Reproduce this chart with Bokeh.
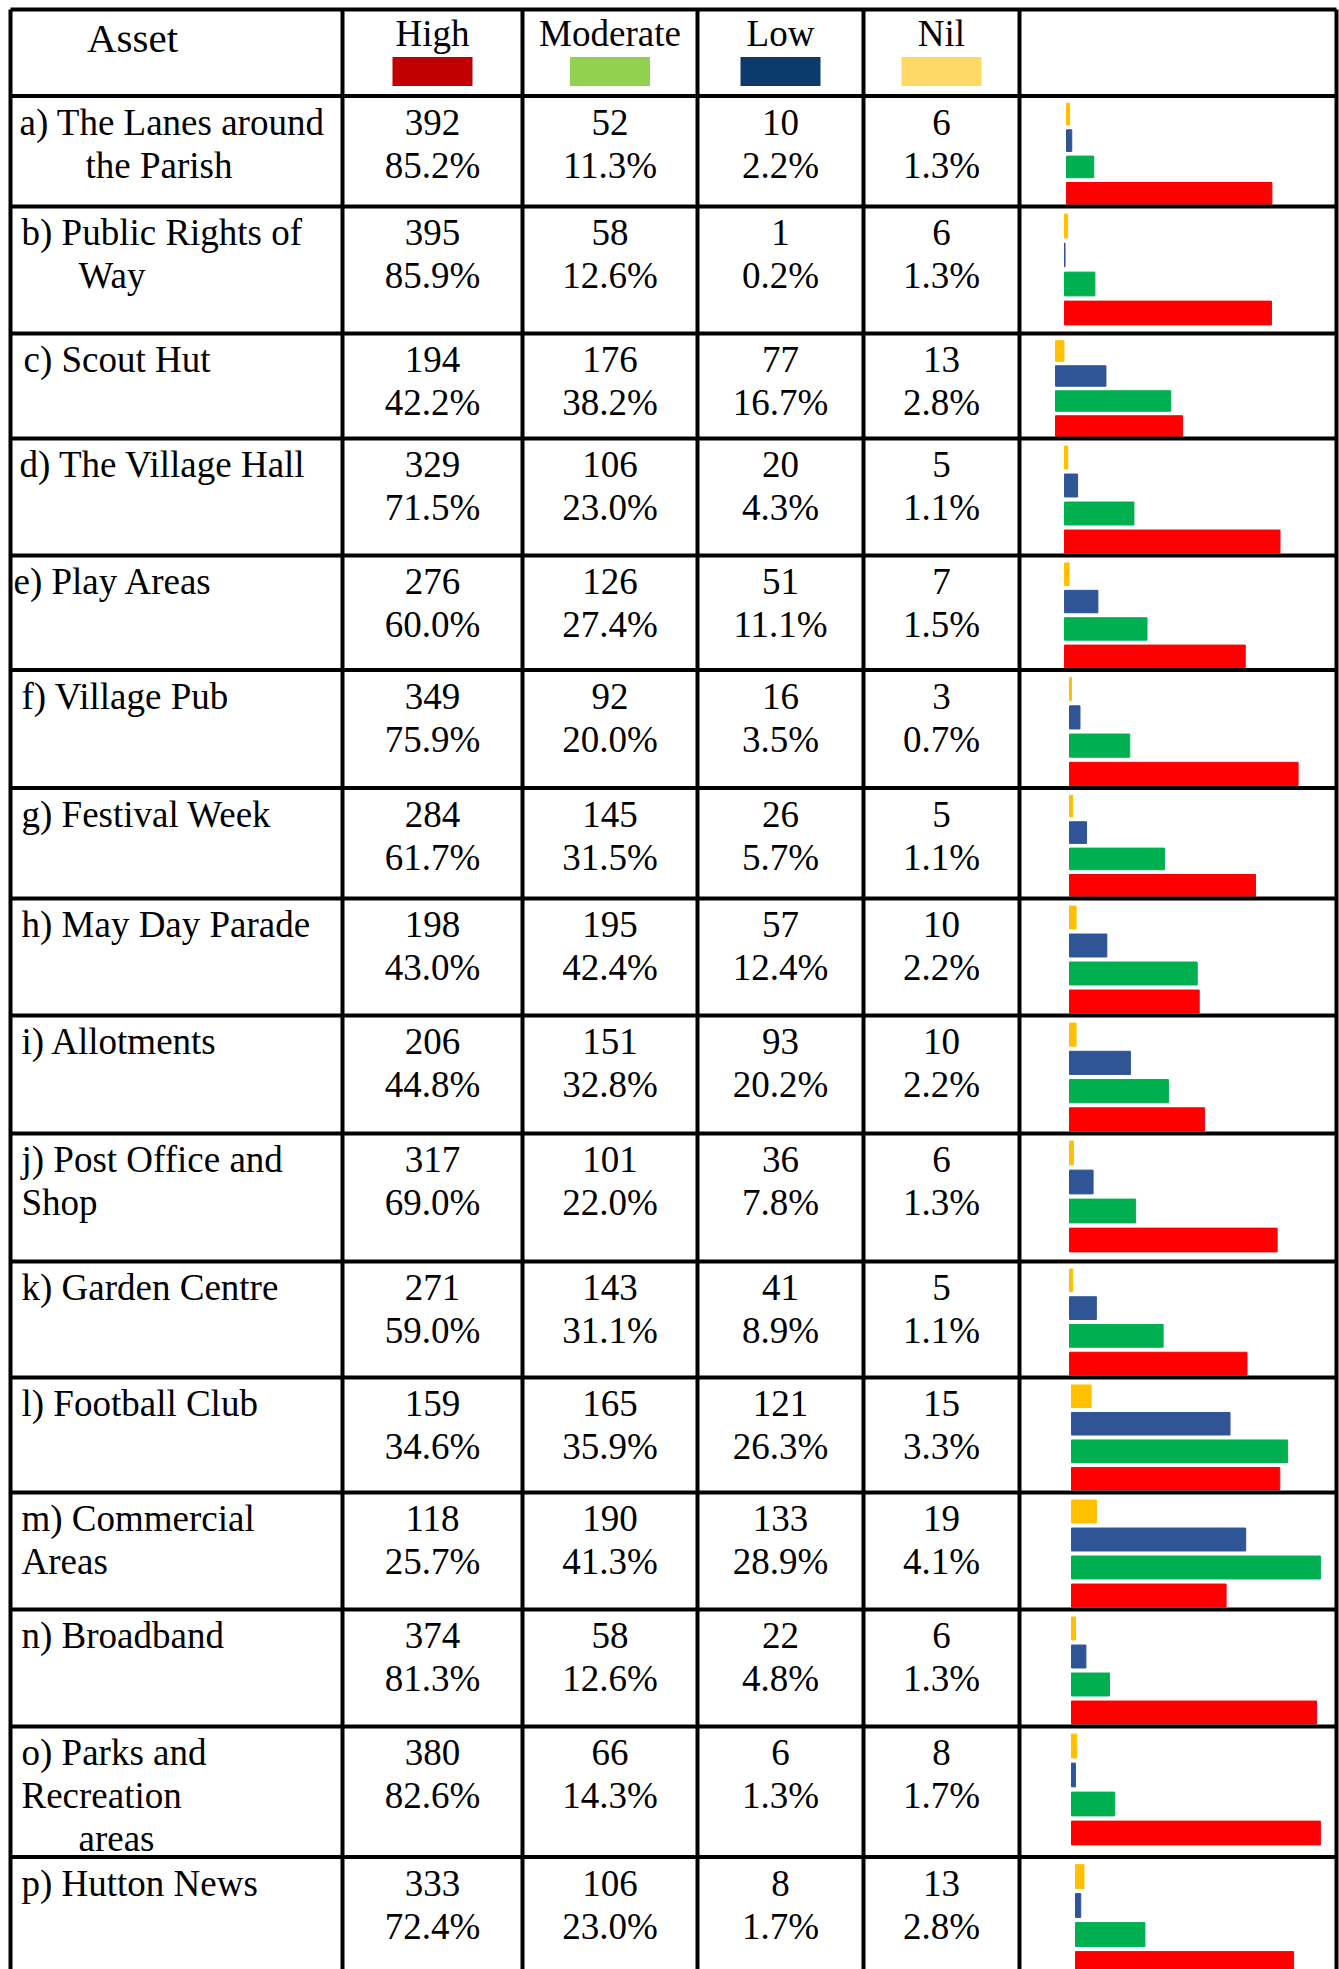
from bokeh.plotting import figure
from bokeh.models import ColumnDataSource, Range1d
from bokeh.core.properties import value
from bokeh.embed import file_html
from bokeh.resources import INLINE

# ---------------- data ----------------
asset_lines = [
    ["a) The Lanes around", "the Parish"],
    ["b) Public Rights of", "Way"],
    ["c) Scout Hut"],
    ["d) The Village Hall"],
    ["e) Play Areas"],
    ["f) Village Pub"],
    ["g) Festival Week"],
    ["h) May Day Parade"],
    ["i) Allotments"],
    ["j) Post Office and", "Shop"],
    ["k) Garden Centre"],
    ["l) Football Club"],
    ["m) Commercial", "Areas"],
    ["n) Broadband"],
    ["o) Parks and", "Recreation", "areas"],
    ["p) Hutton News"],
]
levels = ["High", "Moderate", "Low", "Nil"]
high = [392, 395, 194, 329, 276, 349, 284, 198, 206, 317, 271, 159, 118, 374, 380, 333]
high_pct = ["85.2%", "85.9%", "42.2%", "71.5%", "60.0%", "75.9%", "61.7%", "43.0%",
            "44.8%", "69.0%", "59.0%", "34.6%", "25.7%", "81.3%", "82.6%", "72.4%"]
moderate = [52, 58, 176, 106, 126, 92, 145, 195, 151, 101, 143, 165, 190, 58, 66, 106]
moderate_pct = ["11.3%", "12.6%", "38.2%", "23.0%", "27.4%", "20.0%", "31.5%", "42.4%",
                "32.8%", "22.0%", "31.1%", "35.9%", "41.3%", "12.6%", "14.3%", "23.0%"]
low = [10, 1, 77, 20, 51, 16, 26, 57, 93, 36, 41, 121, 133, 22, 6, 8]
low_pct = ["2.2%", "0.2%", "16.7%", "4.3%", "11.1%", "3.5%", "5.7%", "12.4%",
           "20.2%", "7.8%", "8.9%", "26.3%", "28.9%", "4.8%", "1.3%", "1.7%"]
nil = [6, 6, 13, 5, 7, 3, 5, 10, 10, 6, 5, 15, 19, 6, 8, 13]
nil_pct = ["1.3%", "1.3%", "2.8%", "1.1%", "1.5%", "0.7%", "1.1%", "2.2%",
           "2.2%", "1.3%", "1.1%", "3.3%", "4.1%", "1.3%", "1.7%", "2.8%"]
# axis maximum of each row's mini bar chart
chart_max = [500, 500, 400, 400, 400, 400, 400, 400, 400, 400, 400, 200, 200, 400, 400, 400]

# ---------------- layout / style ----------------
FONT = value("Liberation Serif")
FS = "37px"
W, H = 1339, 1969
col_edges = [10, 342, 522, 697, 863, 1019, 1336]
row_edges = [9, 95.5, 206, 333, 438, 555, 669.5, 787.5, 898, 1015, 1133, 1261,
             1377, 1492, 1609, 1726, 1856.5, 1980]
bar_left = [1066, 1064, 1055, 1064, 1064, 1069, 1069, 1069, 1069, 1069, 1069,
            1071, 1071, 1071, 1071, 1075]
chart_w = 262
label_x_override = {0: [19, 85], 1: [21, 78], 2: [23], 3: [19], 4: [13], 14: [21, 21, 78]}
swatch_colors = ["#C00000", "#92D050", "#0B3A6B", "#FFD966"]
bar_colors = {"High": "#FF0000", "Moderate": "#00B050", "Low": "#2F5597", "Nil": "#FFC000"}

p = figure(width=W, height=H, x_range=Range1d(0, W), y_range=Range1d(H, 0),
           output_backend="svg", toolbar_location=None, min_border=0)
p.axis.visible = False
p.grid.visible = False
p.outline_line_color = None
p.background_fill_color = "white"

# ---- bars (drawn first so grid lines sit on top) ----
series = {"High": high, "Moderate": moderate, "Low": low, "Nil": nil}
order_top_to_bottom = ["Nil", "Low", "Moderate", "High"]
by, bl, br, bh, bc = [], [], [], [], []
for i in range(len(asset_lines)):
    top, bot = row_edges[i + 1], row_edges[i + 2]
    band = min((bot - top - 5) / 4, 29)
    for k, lev in enumerate(order_top_to_bottom):
        v = series[lev][i]
        by.append(top + 5 + band * (k + 0.5))
        bl.append(bar_left[i])
        br.append(bar_left[i] + v / chart_max[i] * chart_w)
        bh.append(band * 0.82)
        bc.append(bar_colors[lev])
p.hbar(y="y", left="l", right="r", height="h", color="c",
       source=ColumnDataSource(dict(y=by, l=bl, r=br, h=bh, c=bc)))

# ---- header swatches ----
col_centers = [(col_edges[j] + col_edges[j + 1]) / 2 for j in range(1, 5)]
p.rect(x=col_centers, y=[71] * 4, width=80, height=29, color=swatch_colors, line_color=None)

# ---- grid lines ----
xs0 = [col_edges[0]] * len(row_edges)
xs1 = [col_edges[-1]] * len(row_edges)
p.segment(x0=xs0, y0=row_edges, x1=xs1, y1=row_edges, line_color="black", line_width=4)
p.segment(x0=col_edges, y0=[row_edges[0]] * len(col_edges), x1=col_edges,
          y1=[row_edges[-1]] * len(col_edges), line_color="black", line_width=4)

# ---- texts ----
p.text(x=[132], y=[37], text=["Asset"], text_align="center", text_baseline="middle",
       text_font=FONT, text_font_size="41px", text_color="black")

tx, ty, tt, ta = [], [], [], []
for j, lev in enumerate(levels):
    tx.append(col_centers[j]); ty.append(33); tt.append(lev); ta.append("center")
counts = [high, moderate, low, nil]
pcts = [high_pct, moderate_pct, low_pct, nil_pct]
LINE = 43
for i, lines in enumerate(asset_lines):
    top = row_edges[i + 1]
    xs = label_x_override.get(i, [21] * len(lines))
    for k, s in enumerate(lines):
        tx.append(xs[k]); ty.append(top + 26 + k * LINE); tt.append(s); ta.append("left")
    for j in range(4):
        tx.append(col_centers[j]); ty.append(top + 26); tt.append(str(counts[j][i])); ta.append("center")
        tx.append(col_centers[j]); ty.append(top + 26 + LINE); tt.append(pcts[j][i]); ta.append("center")

src = ColumnDataSource(dict(x=tx, y=ty, t=tt, a=ta))
p.text(x="x", y="y", text="t", text_align="a", text_baseline="middle",
       text_font=FONT, text_font_size=FS, text_color="black", source=src)

open("out.html", "w").write(file_html(p, INLINE))
